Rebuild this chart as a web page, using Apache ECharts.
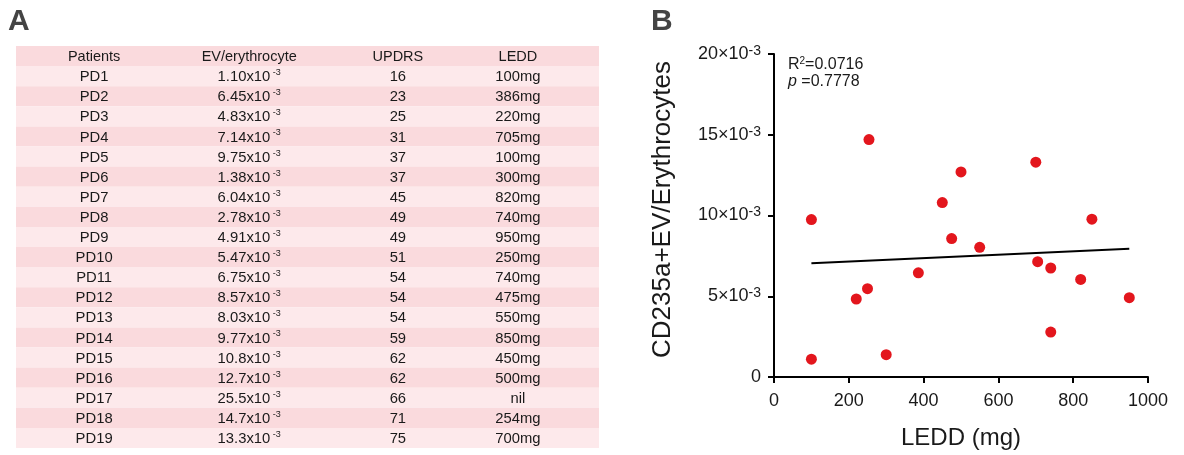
<!DOCTYPE html>
<html><head><meta charset="utf-8">
<script src="https://cdn.jsdelivr.net/npm/echarts@6/dist/echarts.min.js"></script>
<style>html,body{margin:0;padding:0;background:#fff}#c{width:1184px;height:455px}</style>
</head><body><div id="c"></div><script>
// ---- data ----
const headers = ['Patients', 'EV/erythrocyte', 'UPDRS', 'LEDD'];
const patients = ['PD1','PD2','PD3','PD4','PD5','PD6','PD7','PD8','PD9','PD10','PD11','PD12','PD13','PD14','PD15','PD16','PD17','PD18','PD19'];
const evValues = [1.10, 6.45, 4.83, 7.14, 9.75, 1.38, 6.04, 2.78, 4.91, 5.47, 6.75, 8.57, 8.03, 9.77, 10.8, 12.7, 25.5, 14.7, 13.3]; // x10^-3
const updrs = [16, 23, 25, 31, 37, 37, 45, 49, 49, 51, 54, 54, 54, 59, 62, 62, 66, 71, 75];
const leddMg = [100, 386, 220, 705, 100, 300, 820, 740, 950, 250, 740, 475, 550, 850, 450, 500, null, 254, 700];
const fitLine = [[100, 7.05], [950, 7.94]];
const yTicks = [0, 5, 10, 15, 20];
const xTicks = [0, 200, 400, 600, 800, 1000];
const r2Text = '0.0716';
const pText = '0.7778';

// ---- layout / style ----
const FONT = '"Liberation Sans", Arial, sans-serif';
const colPos = [13.4, 40.0, 65.5, 86.1];
const DARK = '#fadadd';
const LIGHT = '#fde9eb';
const TXT = '#1a1a1a';

const rows = [headers].concat(patients.map((p, i) => [
  p, evValues[i].toPrecision(3), String(updrs[i]), leddMg[i] == null ? 'nil' : leddMg[i] + 'mg'
]));
const scatterData = leddMg.map((x, i) => x == null ? null : [x, evValues[i]]).filter(Boolean);

const chart = echarts.init(document.getElementById('c'), null, {renderer: 'canvas'});
chart.setOption({
  animation: false,
  backgroundColor: '#fff',
  textStyle: {fontFamily: FONT},
  grid: [
    {left: 16, top: 46, width: 583, height: 402},
    {left: 774, top: 54, width: 374, height: 326}
  ],
  xAxis: [
    {gridIndex: 0, type: 'value', min: 0, max: 100, show: false},
    {gridIndex: 1, type: 'value', min: xTicks[0], max: xTicks[xTicks.length - 1], interval: xTicks[1] - xTicks[0],
     axisLine: {lineStyle: {color: '#000', width: 2}},
     axisTick: {length: 6, lineStyle: {color: '#000', width: 2}},
     axisLabel: {fontSize: 18, color: TXT, margin: 15, fontFamily: FONT, formatter: v => String(v)},
     splitLine: {show: false},
     name: 'LEDD (mg)', nameLocation: 'middle', nameGap: 49,
     nameTextStyle: {fontSize: 24, color: TXT, fontFamily: FONT}}
  ],
  yAxis: [
    {gridIndex: 0, type: 'category', inverse: true, data: rows.map((r, i) => String(i)), show: false},
    {gridIndex: 1, type: 'value', min: yTicks[0], max: yTicks[yTicks.length - 1], interval: yTicks[1] - yTicks[0],
     axisLine: {show: true, lineStyle: {color: '#000', width: 2}},
     axisTick: {show: true, length: 6, lineStyle: {color: '#000', width: 2}},
     splitLine: {show: false},
     axisLabel: {
       margin: 13, color: TXT, fontFamily: FONT,
       formatter: v => v === 0 ? '{z|0}' : '{m|' + v + '\u00d710}{s|-3}',
       rich: {
         z: {fontSize: 18, color: TXT, fontFamily: FONT},
         m: {fontSize: 18, color: TXT, fontFamily: FONT, lineHeight: 20},
         s: {fontSize: 14, color: TXT, fontFamily: FONT, verticalAlign: 'top', lineHeight: 9}
       }
     },
     name: 'CD235a+EV/Erythrocytes', nameLocation: 'middle', nameGap: 98, nameRotate: 90,
     nameTextStyle: {fontSize: 26, color: TXT, fontFamily: FONT, padding: [0, 0, 0, 12]}}
  ],
  graphic: [
    {type: 'text', left: 8, top: 7, style: {text: 'A', font: 'bold 30px ' + FONT, fill: '#444'}},
    {type: 'text', left: 651, top: 7, style: {text: 'B', font: 'bold 30px ' + FONT, fill: '#444'}},
    {type: 'text', left: 788, top: 56, style: {
      text: '{a|R}{s|2}{a|=' + r2Text + '}\n{i|p}{a| =' + pText + '}',
      rich: {
        a: {fontSize: 16, fontFamily: FONT, fill: TXT, lineHeight: 17},
        i: {fontSize: 16, fontFamily: FONT, fontStyle: 'italic', fill: TXT, lineHeight: 17},
        s: {fontSize: 10, fontFamily: FONT, fill: TXT, verticalAlign: 'top', lineHeight: 10}
      }
    }}
  ],
  series: [
    {
      type: 'custom', xAxisIndex: 0, yAxisIndex: 0, silent: true,
      data: rows.map((r, i) => [0, i]),
      renderItem(params, api) {
        const i = api.value(1);
        const cs = params.coordSys;
        const yc = api.coord([0, i])[1];
        const h = api.size([0, 1])[1];
        const children = [{type: 'rect', shape: {x: cs.x, y: yc - h / 2, width: cs.width, height: h},
          style: {fill: i % 2 === 0 ? DARK : LIGHT}}];
        rows[i].forEach((txt, c) => {
          const x = api.coord([colPos[c], i])[0];
          const style = {x: x, y: yc + 1, align: 'center', verticalAlign: 'middle', fill: TXT};
          if (i > 0 && c === 1) {
            style.text = '{m|' + txt + 'x10}{s| -3}';
            style.rich = {
              m: {fontSize: 14.8, fontFamily: FONT, fill: TXT, lineHeight: 18},
              s: {fontSize: 9, fontFamily: FONT, fill: TXT, verticalAlign: 'top', lineHeight: 9}
            };
          } else {
            style.text = txt;
            style.font = (i === 0 ? 14.5 : 14.8) + 'px ' + FONT;
          }
          children.push({type: 'text', style: style});
        });
        return {type: 'group', children: children};
      }
    },
    {
      type: 'line', xAxisIndex: 1, yAxisIndex: 1, data: fitLine, symbol: 'none', silent: true,
      lineStyle: {color: '#000', width: 2}, z: 2
    },
    {
      type: 'scatter', xAxisIndex: 1, yAxisIndex: 1, data: scatterData, symbolSize: 11,
      itemStyle: {color: '#e3161d', opacity: 1}, z: 3
    }
  ]
});
</script></body></html>
